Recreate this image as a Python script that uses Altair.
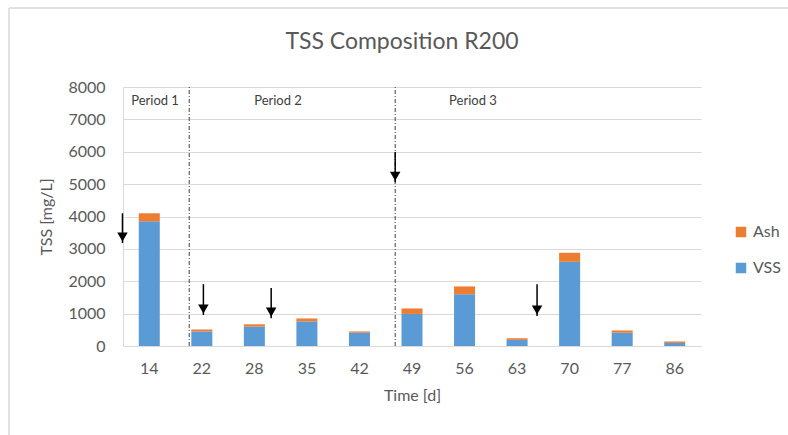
import altair as alt
import pandas as pd

# ---- data ----
days = ["14", "22", "28", "35", "42", "49", "56", "63", "70", "77", "86"]
vss = [3850, 450, 600, 760, 410, 990, 1600, 190, 2600, 410, 95]
ash = [250, 60, 70, 90, 40, 170, 240, 50, 280, 70, 45]
y_ticks = [0, 1000, 2000, 3000, 4000, 5000, 6000, 7000, 8000]

# annotation positions in "slot" units (category i centred at i + 0.5)
period_labels = ["Period 1", "Period 2", "Period 3"]
period_x = [0.61, 2.95, 6.66]
period_y = [7570, 7570, 7570]

divider_x = [1.26, 5.18]

arrow_x = [-0.01, 1.53, 2.82, 5.18, 7.88]
arrow_top = [4100, 1910, 1790, 5990, 1910]
arrow_tip = [3180, 960, 860, 5060, 925]

FONT = "Lato"
GREY = "#595959"

rows = []
for d, v, a in zip(days, vss, ash):
    rows.append({"Time": d, "Component": "VSS", "Value": v, "ord": 0})
    rows.append({"Time": d, "Component": "Ash", "Value": a, "ord": 1})
bars_df = pd.DataFrame(rows)

W, H = 578, 259
Y_TITLE = "TSS [mg/L]"

yscale = alt.Scale(domain=[0, 8000], nice=False)
y_axis = alt.Axis(values=y_ticks, format="d", ticks=False, labelOverlap=False,
                  domainColor="#d9d9d9", gridColor="#d9d9d9",
                  labelFontSize=16, labelColor=GREY, labelPadding=18,
                  titleFontSize=16, titleColor=GREY, titlePadding=13,
                  titleFontWeight="normal", labelFont=FONT, titleFont=FONT)

bars = alt.Chart(bars_df).mark_bar().encode(
    x=alt.X("Time:N", sort=days, title="Time [d]",
            scale=alt.Scale(paddingInner=0.6, paddingOuter=0.3),
            axis=alt.Axis(labelAngle=0, ticks=False, domainColor="#d9d9d9",
                          labelFontSize=16, labelColor=GREY, labelPadding=14,
                          titleFontSize=16, titleColor=GREY, titlePadding=11,
                          titleFontWeight="normal", labelFont=FONT, titleFont=FONT)),
    y=alt.Y("Value:Q", stack="zero", scale=yscale, title=Y_TITLE, axis=y_axis),
    color=alt.Color("Component:N",
                    scale=alt.Scale(domain=["Ash", "VSS"], range=["#ED7D31", "#5B9BD5"]),
                    legend=alt.Legend(title=None, orient="none", legendX=610, legendY=137,
                                      symbolType="square", symbolSize=110,
                                      labelFontSize=16, labelColor=GREY, labelFont=FONT,
                                      rowPadding=20, symbolStrokeWidth=0)),
    order=alt.Order("ord:Q"),
)

xq = alt.X("x:Q", scale=alt.Scale(domain=[0, 11], nice=False, zero=False), axis=None)

div_df = pd.DataFrame({"x": divider_x, "y0": [0] * len(divider_x), "y1": [8000] * len(divider_x)})
dividers = alt.Chart(div_df).mark_rule(color="#404040", strokeWidth=1,
                                       strokeDash=[4, 2, 1, 2]).encode(
    x=xq, y=alt.Y("y0:Q", scale=yscale, title=Y_TITLE, axis=y_axis), y2="y1:Q")

arr_df = pd.DataFrame({"x": arrow_x, "top": arrow_top, "tip": arrow_tip})
shafts = alt.Chart(arr_df).mark_rule(color="black", strokeWidth=1.5).encode(
    x=xq, y=alt.Y("top:Q", scale=yscale, title=Y_TITLE, axis=y_axis), y2="tip:Q")
heads = alt.Chart(arr_df).mark_point(shape="triangle-down", filled=True, color="black",
                                     opacity=1, size=110, yOffset=-6).encode(
    x=xq, y=alt.Y("tip:Q", scale=yscale, title=Y_TITLE, axis=y_axis))

per_df = pd.DataFrame({"x": period_x, "y": period_y, "label": period_labels})
periods = alt.Chart(per_df).mark_text(fontSize=13, color="#404040", font=FONT).encode(
    x=xq, y=alt.Y("y:Q", scale=yscale, title=Y_TITLE, axis=y_axis), text="label:N")

# outer border (left and top edges of the chart frame)
frame = alt.Chart(pd.DataFrame({"k": [0]})).mark_rule(color="#d9d9d9", strokeWidth=1.5).encode(
    x=alt.value(-114), x2=alt.value(W + 90), y=alt.value(-79))
frame2 = alt.Chart(pd.DataFrame({"k": [0]})).mark_rule(color="#d9d9d9", strokeWidth=1.5).encode(
    x=alt.value(-114), y=alt.value(-79), y2=alt.value(H + 92))

chart = alt.layer(bars, dividers, shafts, heads, periods, frame, frame2).resolve_scale(
    x="independent"
).properties(
    width=W, height=H,
    title=alt.TitleParams("TSS Composition R200", fontSize=23, font=FONT, color=GREY,
                          fontWeight="normal", anchor="middle", dx=-10, offset=-47),
    autosize=alt.AutoSizeParams(type="none"),
    padding={"left": 123, "top": 87, "right": 87, "bottom": 89},
    background="white",
).configure_view(strokeWidth=0, stroke="transparent")

chart.save("out.html", embed_options={"renderer": "svg", "actions": False})
